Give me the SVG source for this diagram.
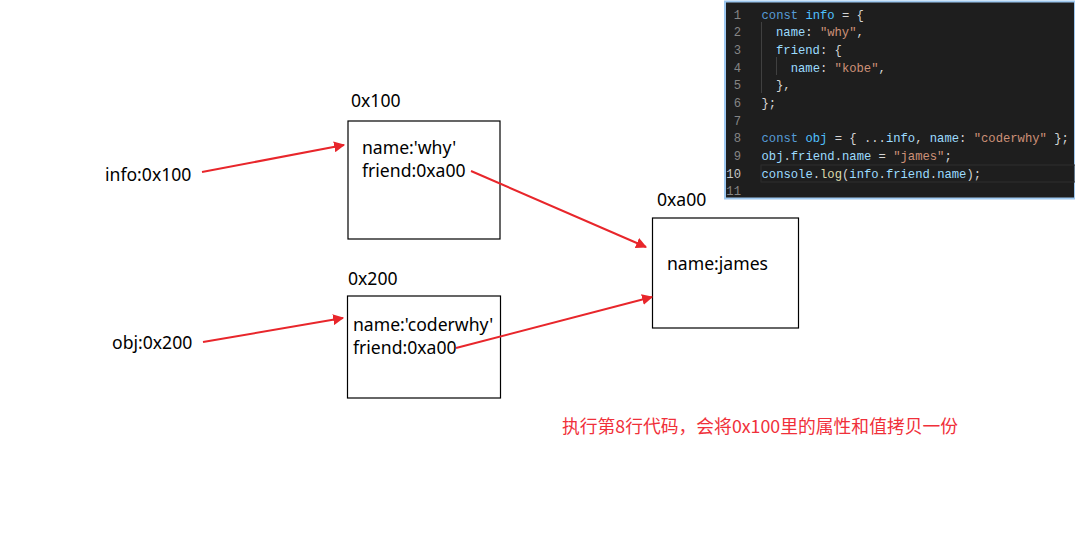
<svg xmlns="http://www.w3.org/2000/svg" width="1075" height="558" viewBox="0 0 1075 558">
<defs>
<style>
.t{font-family:"Noto Sans","Liberation Sans",sans-serif;font-size:17.6px;fill:#000}
.box{fill:#fff;stroke:#000;stroke-width:1.2}
.ar{stroke:#e8262b;stroke-width:2;fill:none;marker-end:url(#ah)}
.cd{font-family:"Liberation Mono","DejaVu Sans Mono",monospace;font-size:12.2px;white-space:pre}
.ln{fill:#858585;text-anchor:end}
.k{fill:#569cd6}.c{fill:#4fc1ff}.v{fill:#9cdcfe}.s{fill:#ce9178}.p{fill:#d4d4d4}.f{fill:#dcdcaa}
.cn{font-family:"Noto Sans CJK SC","Noto Sans",sans-serif;font-size:17.8px;fill:#f0303a}
</style>
<marker id="ah" viewBox="0 0 10 10" refX="9" refY="5" markerWidth="5.5" markerHeight="5.5" orient="auto" markerUnits="strokeWidth">
<path d="M0,0 L10,5 L0,10 z" fill="#e8262b"/>
</marker>
</defs>
<rect width="1075" height="558" fill="#fff"/>

<g id="code">
<rect x="725" y="1.5" width="350" height="197" fill="#1e1e1e" stroke="#9ec8f0" stroke-width="2"/>
<rect x="761" y="165" width="314" height="17" fill="none" stroke="#2e2e2e" stroke-width="1"/>
<line x1="761.5" y1="22" x2="761.5" y2="93" stroke="#404040"/>
<line x1="776.5" y1="57" x2="776.5" y2="75" stroke="#404040"/>
<g class="cd">
<text class="ln" x="741" y="18.5">1</text>
<text class="ln" x="741" y="36.2">2</text>
<text class="ln" x="741" y="53.8">3</text>
<text class="ln" x="741" y="71.5">4</text>
<text class="ln" x="741" y="89.2">5</text>
<text class="ln" x="741" y="106.8">6</text>
<text class="ln" x="741" y="124.5">7</text>
<text class="ln" x="741" y="142.2">8</text>
<text class="ln" x="741" y="159.8">9</text>
<text class="ln" x="741" y="177.5" style="fill:#c6c6c6">10</text>
<text class="ln" x="741" y="195.2">11</text>
<text x="761.5" y="18.5"><tspan class="k">const</tspan><tspan class="p"> </tspan><tspan class="c">info</tspan><tspan class="p"> = {</tspan></text>
<text x="776" y="36.2"><tspan class="v">name</tspan><tspan class="p">: </tspan><tspan class="s">"why"</tspan><tspan class="p">,</tspan></text>
<text x="776" y="53.8"><tspan class="v">friend</tspan><tspan class="p">: {</tspan></text>
<text x="790.7" y="71.5"><tspan class="v">name</tspan><tspan class="p">: </tspan><tspan class="s">"kobe"</tspan><tspan class="p">,</tspan></text>
<text x="776" y="89.2" class="p">},</text>
<text x="761.5" y="106.8" class="p">};</text>
<text x="761.5" y="142.2"><tspan class="k">const</tspan><tspan class="p"> </tspan><tspan class="c">obj</tspan><tspan class="p"> = { ...</tspan><tspan class="v">info</tspan><tspan class="p">, </tspan><tspan class="v">name</tspan><tspan class="p">: </tspan><tspan class="s">"coderwhy"</tspan><tspan class="p"> };</tspan></text>
<text x="761.5" y="159.8"><tspan class="v">obj</tspan><tspan class="p">.</tspan><tspan class="v">friend</tspan><tspan class="p">.</tspan><tspan class="v">name</tspan><tspan class="p"> = </tspan><tspan class="s">"james"</tspan><tspan class="p">;</tspan></text>
<text x="761.5" y="177.5"><tspan class="v">console</tspan><tspan class="p">.</tspan><tspan class="f">log</tspan><tspan class="p">(</tspan><tspan class="v">info</tspan><tspan class="p">.</tspan><tspan class="v">friend</tspan><tspan class="p">.</tspan><tspan class="v">name</tspan><tspan class="p">);</tspan></text>
</g>
</g>

<g id="info-var"><text class="t" x="105" y="181">info:0x100</text></g>
<g id="obj-var"><text class="t" x="112" y="349">obj:0x200</text></g>

<g id="node-0x100">
<text class="t" x="351" y="107">0x100</text>
<rect class="box" x="348" y="121" width="152" height="118"/>
<text class="t" x="362" y="154">name:'why'</text>
<text class="t" x="362" y="177">friend:0xa00</text>
</g>

<g id="node-0x200">
<text class="t" x="348" y="285">0x200</text>
<rect class="box" x="347.5" y="296" width="153" height="102"/>
<text class="t" x="353" y="331">name:'coderwhy'</text>
<text class="t" x="353" y="354">friend:0xa00</text>
</g>

<g id="node-0xa00">
<text class="t" x="657" y="206">0xa00</text>
<rect class="box" x="652.5" y="218" width="146" height="110"/>
<text class="t" x="667" y="270">name:james</text>
</g>

<g id="connectors">
<line class="ar" x1="202" y1="172" x2="344" y2="145"/>
<line class="ar" x1="203" y1="342" x2="343" y2="318"/>
<line class="ar" x1="471" y1="171" x2="646" y2="247"/>
<line class="ar" x1="456" y1="348" x2="652" y2="297"/>
</g>

<g id="note"><text class="cn" x="562" y="433">执行第8行代码，会将0x100里的属性和值拷贝一份</text></g>
</svg>
